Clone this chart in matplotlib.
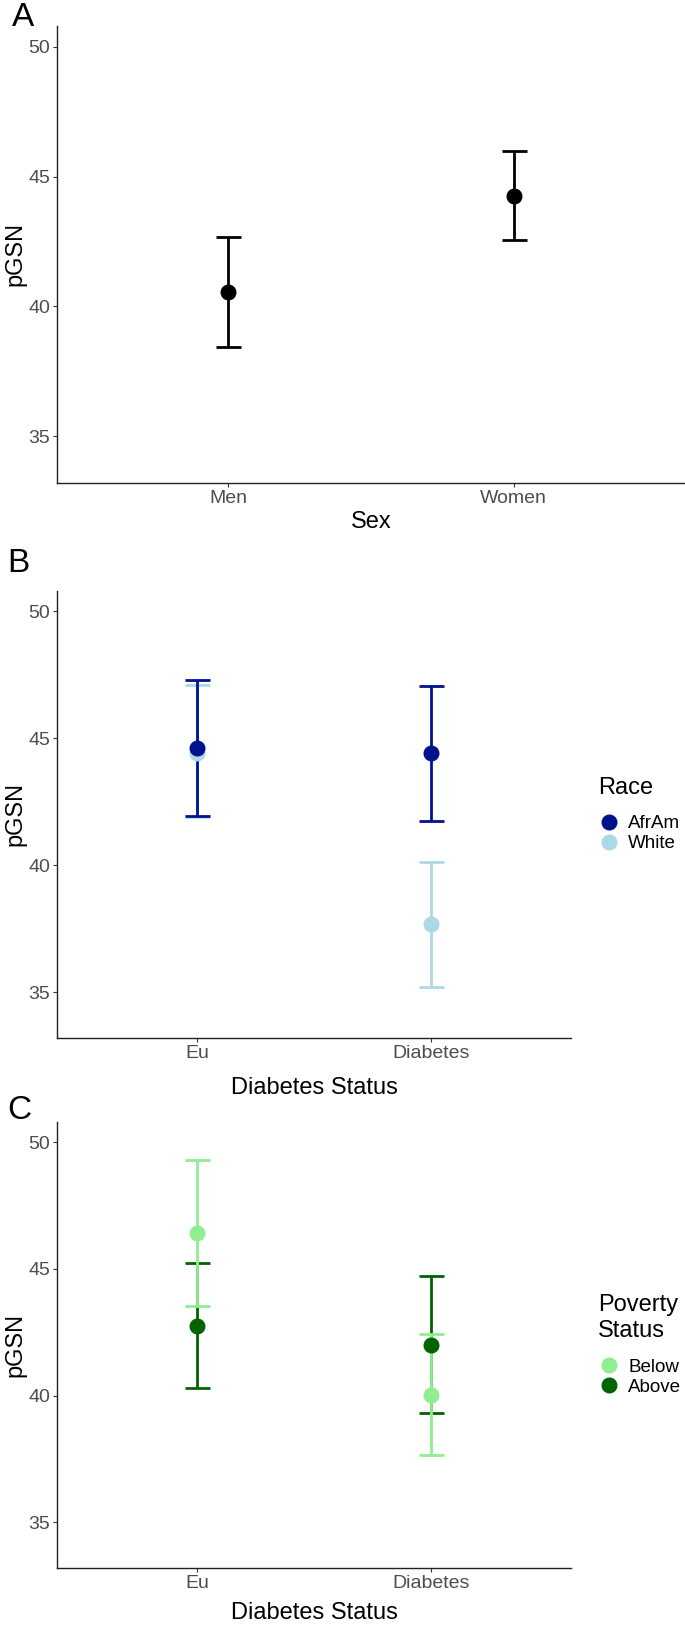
import matplotlib

matplotlib.use("Agg")

import matplotlib.pyplot as plt
from matplotlib.lines import Line2D

plt.rcParams["font.family"] = ["Liberation Sans", "DejaVu Sans"]

# panel A: sex
sex_labels = ["Men", "Women"]
sex_mean = [40.54, 44.26]
sex_lower = [38.45, 42.57]
sex_upper = [42.66, 45.98]

# panel B: race by diabetes status
status_labels = ["Eu", "Diabetes"]
race_names = ["AfrAm", "White"]
afram_mean = [44.62, 44.41]
afram_lower = [41.95, 41.76]
afram_upper = [47.31, 47.05]
white_mean = [44.43, 37.69]
white_lower = [41.89, 35.22]
white_upper = [47.09, 40.12]

# panel C: poverty by diabetes status
poverty_names = ["Below", "Above"]
below_mean = [46.42, 40.04]
below_lower = [43.53, 37.64]
below_upper = [49.29, 42.45]
above_mean = [42.74, 42.00]
above_lower = [40.30, 39.30]
above_upper = [45.22, 44.71]

y_ticks = [35, 40, 45, 50]
y_limits = (33.2, 50.8)

W, H = 685, 1627
fig = plt.figure(figsize=(W / 100, H / 100), dpi=100)


def frac_box(left, top, right, bottom):
    return [left / W, 1 - bottom / H, (right - left) / W, (bottom - top) / H]


def style_axis(axis, labels, xlabel, xpad):
    axis.set_xlim(0.4, 2.6)
    axis.set_ylim(*y_limits)
    axis.set_xticks([1, 2])
    axis.set_xticklabels(labels)
    axis.set_yticks(y_ticks)
    axis.spines["top"].set_visible(False)
    axis.spines["right"].set_visible(False)
    for side in ("left", "bottom"):
        axis.spines[side].set_linewidth(1.0)
        axis.spines[side].set_color("#222222")
    axis.tick_params(length=3, width=0.8, color="#333333", labelcolor="#4D4D4D",
                     labelsize=14, pad=2)
    axis.set_xlabel(xlabel, fontsize=17, labelpad=xpad)
    axis.set_ylabel("pGSN", fontsize=17, labelpad=1)


def draw_group(axis, mean, lower, upper, color):
    xs = [1, 2]
    err = [[m - lo for m, lo in zip(mean, lower)], [up - m for m, up in zip(mean, upper)]]
    axis.errorbar(xs, mean, yerr=err, fmt="none", ecolor=color, elinewidth=2,
                  capsize=9, capthick=2, zorder=2)


def draw_points(axis, mean, color):
    axis.plot([1, 2], mean, "o", color=color, markersize=10.5, zorder=3)


def add_legend(axis, title, names, colors):
    handles = [Line2D([], [], marker="o", linestyle="none", color=c, markersize=10.5)
               for c in colors]
    leg = axis.legend(handles, names, title=title, loc="center left",
                      bbox_to_anchor=(1.035, 0.5), frameon=False, fontsize=13.5,
                      title_fontsize=17, handletextpad=0.45, labelspacing=0.15,
                      borderpad=0, handlelength=1.15)
    leg._legend_box.align = "left"
    leg._legend_box.sep = 12


# A
ax_a = fig.add_axes(frac_box(57, 26, 685, 483))
draw_group(ax_a, sex_mean, sex_lower, sex_upper, "black")
draw_points(ax_a, sex_mean, "black")
style_axis(ax_a, sex_labels, "Sex", 3)

# B
ax_b = fig.add_axes(frac_box(57, 591, 571, 1038))
draw_group(ax_b, white_mean, white_lower, white_upper, "#ADD8E6")
draw_group(ax_b, afram_mean, afram_lower, afram_upper, "#00128C")
draw_points(ax_b, white_mean, "#ADD8E6")
draw_points(ax_b, afram_mean, "#00128C")
style_axis(ax_b, status_labels, "Diabetes Status", 11)
add_legend(ax_b, "Race", race_names, ["#00128C", "#ADD8E6"])

# C
ax_c = fig.add_axes(frac_box(57, 1122, 571, 1568))
draw_group(ax_c, above_mean, above_lower, above_upper, "#006400")
draw_group(ax_c, below_mean, below_lower, below_upper, "#90EE90")
draw_points(ax_c, above_mean, "#006400")
draw_points(ax_c, below_mean, "#90EE90")
style_axis(ax_c, status_labels, "Diabetes Status", 7)
add_legend(ax_c, "Poverty\nStatus", poverty_names, ["#90EE90", "#006400"])

for letter, x, y in [("A", 12, 2), ("B", 7, 548), ("C", 7, 1095)]:
    fig.text(x / W, 1 - y / H, letter, fontsize=24, va="top", ha="left")

fig.savefig("out.png", dpi=100)
